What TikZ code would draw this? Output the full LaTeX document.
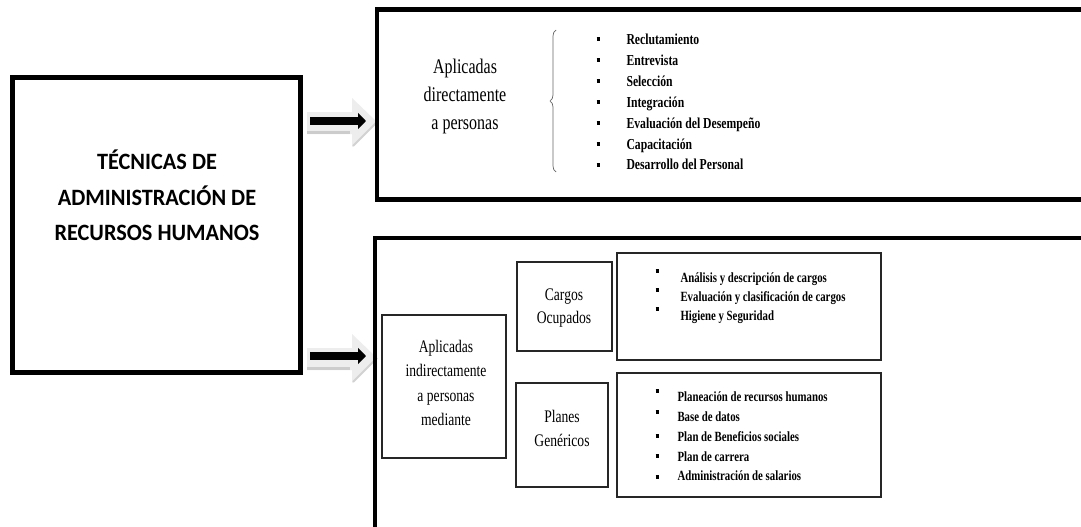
\documentclass[tikz,border=0pt]{standalone}
\usepackage{fontspec}
\setmainfont{Liberation Serif}
\newfontfamily\calib{Carlito}
\usepackage{graphicx}
\usetikzlibrary{arrows.meta,decorations.pathreplacing}
\newcommand\stk[3]{\scalebox{1}[1.3]{\fontsize{#1}{#2}\selectfont\begin{tabular}{@{}c@{}}#3\end{tabular}}}
\newcommand\blt[1]{\raisebox{#1}[0pt][0pt]{\rule{3.6pt}{3pt}}}
\newcommand\lst[4]{\scalebox{1}[1.3]{\fontsize{#1}{#2}\selectfont\bfseries\begin{tabular}{@{}l@{\hspace{#3}}l@{}}#4\end{tabular}}}
\newcommand\garr[1]{%
  \fill[gray!14] (307,#1-10) -- (352,#1-10) -- (352,#1-24) -- (377,#1) -- (352,#1+25) -- (352,#1+12) -- (307,#1+12) -- cycle;
  \draw[gray!40, line width=3pt] (307,#1+10) -- (350,#1+10);
  \draw[gray!35, line width=2pt] (377,#1) -- (353,#1+24);}
\tikzset{
  bigbox/.style={draw=black, line width=4.5pt, rectangle, inner sep=0pt, fill=none},
  smallbox/.style={draw=black!85, line width=1.3pt, rectangle, inner sep=0pt},
  listbox/.style={draw=black!85, line width=1.7pt, rectangle, inner sep=0pt},
  txt/.style={inner sep=0pt, outer sep=0pt},
  blackarrow/.style={line width=8pt, -{Triangle[length=8pt,width=16pt]}},
}
\begin{document}
\begin{tikzpicture}[x=1pt,y=-1pt]
\useasboundingbox (0,0) rectangle (1081,527);
\clip (0,0) rectangle (1081,527);
\fill[white] (0,0) rectangle (1081,527);
% gray shadow arrows
\garr{122}
\garr{358}
% boxes
\node[bigbox, line width=5pt, minimum width=288pt, minimum height=295pt] (main) at (156,224.5) {};
\node[txt] (title) at (157,198) {\scalebox{1}[1.05]{\calib\bfseries\fontsize{22.3}{33.5}\selectfont\begin{tabular}{@{}c@{}}TÉCNICAS DE\\ADMINISTRACIÓN DE\\RECURSOS HUMANOS\end{tabular}}};
\node[bigbox, minimum width=723pt, minimum height=190pt] (topbox) at (738.5,104.5) {};
\node[bigbox, minimum width=725pt, minimum height=302pt] (botbox) at (737.5,389) {};
% black arrows
\coordinate (a1s) at (310,121);
\coordinate (a1e) at (366,121);
\coordinate (a2s) at (310,356);
\coordinate (a2e) at (366,356);
\draw[blackarrow] (a1s) -- (a1e);
\draw[blackarrow] (a2s) -- (a2e);
% top box contents
\node[txt] (direct) at (465,96) {\stk{16}{21.5}{Aplicadas\\directamente\\a personas}};
\coordinate (br1) at (556,172);
\coordinate (br2) at (556,30);
\draw[black!60, line width=0.7pt, decorate, decoration={brace, amplitude=6pt}] (br1) -- (br2);
\node[txt, anchor=west] (list0) at (596.5,103) {\lst{11.7}{16.1}{26.4pt}{%
\blt{2.4pt} & Reclutamiento\\
\blt{2.4pt} & Entrevista\\
\blt{2.4pt} & Selección\\
\blt{2.4pt} & Integración\\
\blt{2.4pt} & Evaluación del Desempeño\\
\blt{2.4pt} & Capacitación\\
\blt{2.4pt} & Desarrollo del Personal}};
% bottom box contents
\node[smallbox, minimum width=124pt, minimum height=143pt] (indbox) at (444,386.5) {};
\node[txt] (indtxt) at (446,384) {\stk{13.6}{18.8}{Aplicadas\\indirectamente\\a personas\\mediante}};
\node[smallbox, minimum width=95pt, minimum height=89pt] (cargbox) at (564.5,306.5) {};
\node[txt] (cargtxt) at (564,307) {\stk{13.6}{17.7}{Cargos\\Ocupados}};
\node[smallbox, minimum width=92pt, minimum height=104pt] (planbox) at (562,435) {};
\node[txt] (plantxt) at (562,430) {\stk{13.6}{18.5}{Planes\\Genéricos}};
\node[listbox, minimum width=264pt, minimum height=107pt] (list1box) at (749,306.5) {};
\node[txt, anchor=west] (list1) at (655.5,298) {\lst{10.8}{14.6}{21.4pt}{%
\blt{7.8pt} & Análisis y descripción de cargos\\
\blt{7.8pt} & Evaluación y clasificación de cargos\\
\blt{7.8pt} & Higiene y Seguridad}};
\node[listbox, minimum width=264pt, minimum height=124pt] (list2box) at (749,435) {};
\node[txt, anchor=west] (list2) at (655.5,437.5) {\lst{10.8}{15.2}{18.4pt}{%
\blt{7pt} & Planeación de recursos humanos\\
\blt{6.2pt} & Base de datos\\
\blt{2.4pt} & Plan de Beneficios sociales\\
\blt{2.4pt} & Plan de carrera\\
\blt{1.6pt} & Administración de salarios}};
\end{tikzpicture}
\end{document}
